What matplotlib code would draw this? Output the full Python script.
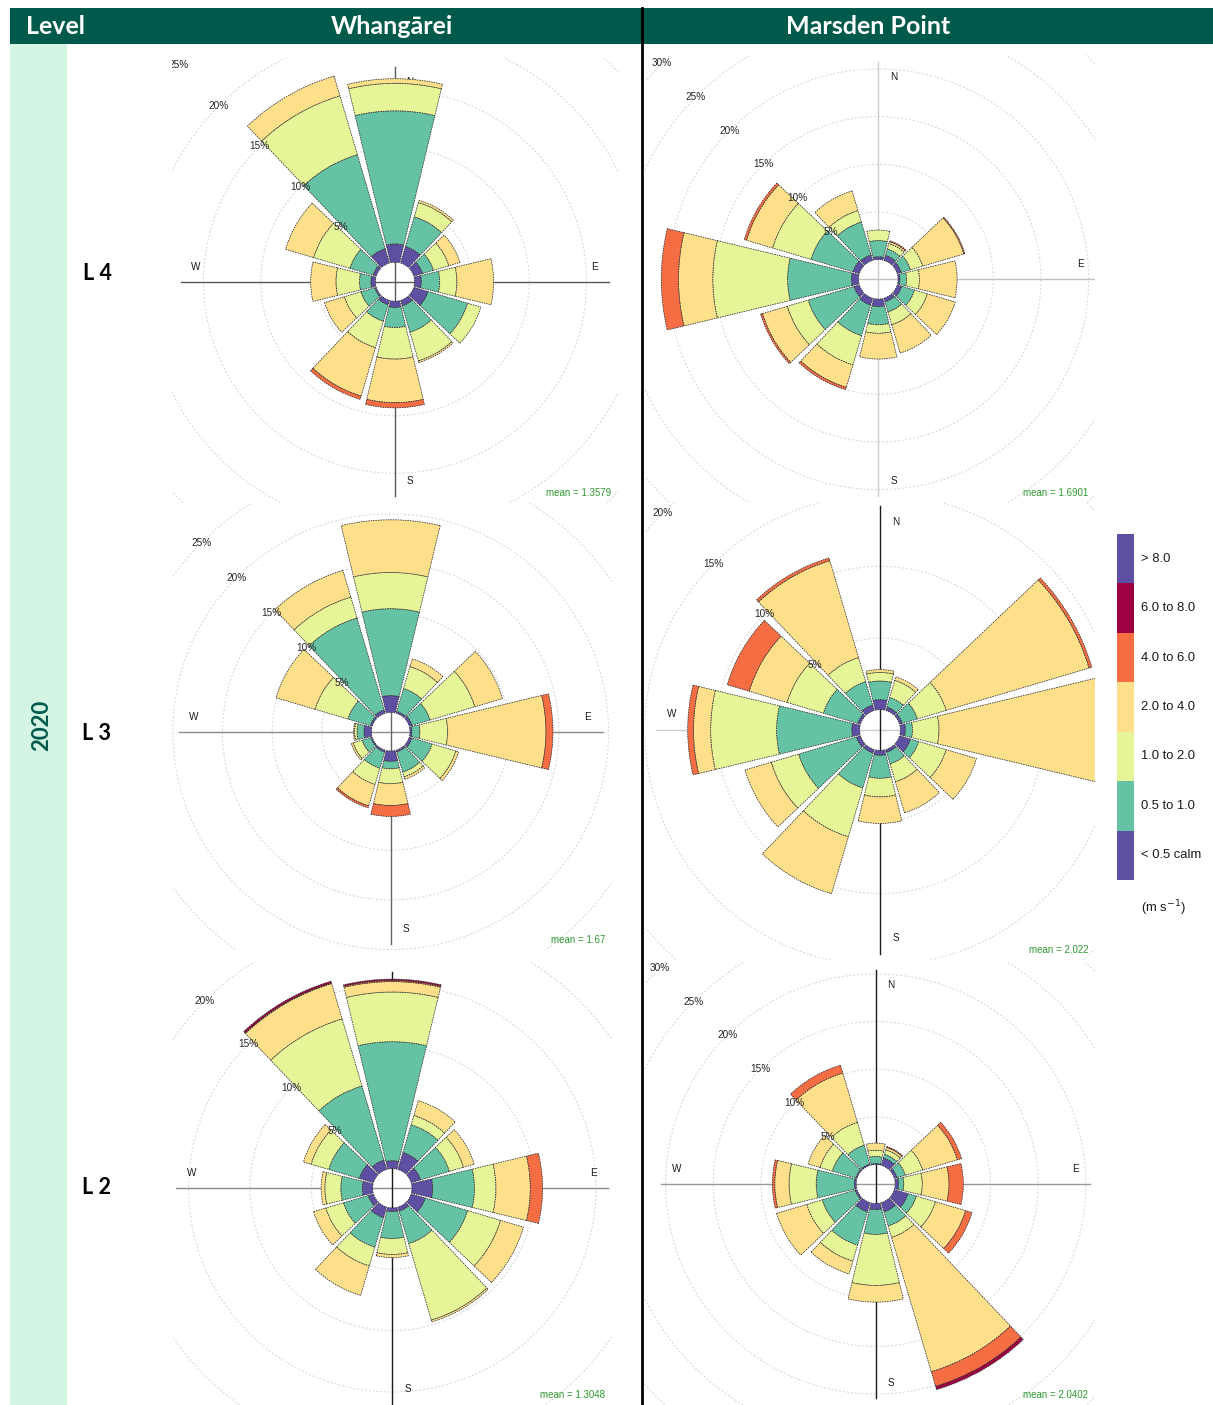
import matplotlib
matplotlib.use('Agg')
import matplotlib.pyplot as plt
from matplotlib.patches import Wedge, Circle, Rectangle
from matplotlib.lines import Line2D

W, H = 1213, 1405

# speed bins (m/s) and openair-style palette
rangos = ['< 0.5 calm', '0.5 to 1.0', '1.0 to 2.0', '2.0 to 4.0',
          '4.0 to 6.0', '6.0 to 8.0', '> 8.0']
colores = ['#5E4FA2', '#66C2A5', '#E6F598', '#FEE08B', '#F46D43', '#9E0142', '#5E4FA2']

direcciones = [0, 30, 60, 90, 120, 150, 180, 210, 240, 270, 300, 330]

# cumulative frequency (%) by direction, stacked by speed bin
whg_l4 = [
    [1.6, 13.2, 15.6, 16.0],
    [1.5, 4.2, 5.5, 5.7],
    [0.8, 1.8, 3.2, 4.2],
    [0.6, 2.2, 3.7, 6.9],
    [1.3, 4.9, 6.1],
    [0.5, 2.9, 5.5, 5.65],
    [0.55, 2.3, 5.05, 8.85, 9.3],
    [0.4, 1.9, 4.3, 8.7, 9.0],
    [0.15, 1.4, 2.9, 4.7],
    [0.4, 1.4, 3.45, 5.65],
    [0.3, 2.4, 5.7, 8.25],
    [1.3, 9.85, 15.2, 17.0],
]
mar_l4 = [
    [0.3, 2.0, 3.1],
    [0.55, 1.25, 1.85, 2.05, 2.15],
    [0.45, 1.45, 2.8, 7.3, 7.4],
    [0.2, 0.9, 2.25, 6.2],
    [0.5, 1.9, 3.3, 6.35],
    [0.4, 1.5, 2.9, 6.0],
    [0.8, 2.7, 3.6, 6.3],
    [0.75, 4.1, 7.3, 9.75, 10.0],
    [0.6, 5.6, 7.9, 10.6, 10.8],
    [0.75, 7.45, 15.3, 18.9, 20.7],
    [0.7, 5.3, 9.5, 12.35, 12.6],
    [0.6, 4.2, 5.45, 7.6],
]
whg_l3 = [
    [1.7, 10.45, 14.1, 19.4],
    [0.2, 2.6, 4.9, 5.7],
    [0.3, 2.2, 6.9, 9.8],
    [0.2, 1.0, 3.8, 13.7, 14.4],
    [0.3, 2.4, 4.9, 5.2],
    [0.2, 2.3, 2.8, 3.05],
    [1.05, 1.8, 3.3, 5.5, 6.6],
    [0.2, 1.9, 3.6, 5.85, 6.05],
    [0.15, 1.05, 2.0, 2.2],
    [0.75, 1.45, 1.7, 1.8],
    [0.2, 2.55, 6.0, 10.1],
    [0.35, 10.0, 12.2, 15.0],
]
mar_l3 = [
    [0.7, 2.0, 2.6, 2.8],
    [0.25, 0.95, 2.2, 2.45],
    [0.2, 1.3, 3.4, 13.8, 14.0],
    [0.35, 0.85, 2.7, 14.2],
    [0.8, 1.4, 3.4, 5.6],
    [0.2, 1.05, 2.35, 4.6],
    [0.35, 1.95, 3.25, 5.1],
    [0.25, 2.8, 6.35, 10.5],
    [0.3, 4.5, 6.5, 8.4],
    [0.55, 5.8, 10.4, 11.6, 12.0],
    [0.2, 2.7, 5.35, 8.1, 9.7],
    [0.4, 2.1, 3.85, 10.9, 11.1],
]
whg_l2 = [
    [0.65, 10.35, 14.4, 15.25, 15.35, 15.45],
    [1.45, 3.8, 4.6, 5.85],
    [0.8, 3.25, 4.45, 5.35],
    [1.7, 5.1, 6.85, 9.65, 10.65],
    [1.2, 4.8, 7.6, 9.55],
    [0.35, 3.1, 9.6, 9.75],
    [0.3, 2.5, 3.8, 4.05],
    [0.9, 3.4, 5.0, 7.5],
    [0.45, 2.55, 4.05, 5.1],
    [0.85, 2.6, 3.9, 4.2],
    [1.2, 3.8, 5.3, 5.95],
    [0.8, 7.1, 12.8, 15.8, 15.85, 16.0],
]
mar_l2 = [
    [0.1, 0.85, 1.5, 2.25],
    [0.8, 1.2, 1.7, 1.95, 2.05],
    [0.3, 1.2, 3.1, 6.9, 7.35],
    [0.35, 0.9, 2.85, 5.65, 7.15],
    [1.5, 2.4, 4.5, 7.8, 8.5],
    [1.0, 2.55, 3.8, 18.5, 20.1, 20.45],
    [0.65, 3.25, 8.6, 10.35],
    [1.0, 4.65, 6.4, 7.8],
    [0.2, 3.8, 5.5, 8.8],
    [0.2, 4.2, 7.05, 8.55, 8.8],
    [0.15, 2.7, 4.05, 5.35],
    [0.15, 2.2, 4.7, 10.1, 10.95],
]

medias = ['mean = 1.3579', 'mean = 1.6901', 'mean = 1.67',
          'mean = 2.022', 'mean = 1.3048', 'mean = 2.0402']
niveles = ['L 4', 'L 3', 'L 2']
sitios = ['Whang\u0101rei', 'Marsden Point']

rosas = [whg_l4, mar_l4, whg_l3, mar_l3, whg_l2, mar_l2]

# panel box (px): x0, y0, x1, y1, centre x, centre y, px per %
paneles = [
    (172, 58, 618, 503, 395.0, 281.7, 11.47),
    (645, 55, 1095, 503, 878.3, 279.3, 9.53),
    (172, 503, 612, 950, 390.7, 731.7, 9.93),
    (645, 503, 1095, 960, 880.0, 730.0, 14.33),
    (172, 962, 612, 1405, 392.3, 1188.3, 12.27),
    (645, 962, 1095, 1405, 875.7, 1184.0, 9.53),
]
color_ns = ['0.35', '0.8', '0.4', '0.1', '0.1', '0.1']
color_ew = ['0.35', '0.75', '0.55', '0.8', '0.55', '0.6']

fuente = ['Liberation Sans', 'DejaVu Sans']
titulo = ['Lato', 'DejaVu Sans']
verde = '#005A4B'


def fig_x(x):
    return x / W


def fig_y(y):
    return 1 - y / H


def dibujar_rosa(fig, datos, caja, media, cns, cew):
    x0, y0, x1, y1, cx, cy, s = caja
    ax = fig.add_axes([fig_x(x0), fig_y(y1), (x1 - x0) / W, (y1 - y0) / H])
    xmin, xmax = (x0 - cx) / s, (x1 - cx) / s
    ymin, ymax = (cy - y1) / s, (cy - y0) / s
    ax.set_xlim(xmin, xmax)
    ax.set_ylim(ymin, ymax)
    ax.axis('off')

    maximo = max(fila[-1] for fila in datos)
    off = 0.1 * maximo
    R = maximo + off

    # dotted percentage circles, labelled along the NW diagonal
    for v in range(5, 45, 5):
        ax.add_patch(Circle((0, 0), v + off, fill=False, ec='#d4d4d4', lw=0.7,
                            ls=(0, (2, 2)), zorder=1))
        d = (v + off) * 0.7071
        if -d > xmin and d < ymax:
            ax.text(-d, d, '%d%%' % v, fontsize=7.2, ha='center', va='center',
                    family=fuente, color='0.15', clip_on=True, zorder=5)

    ax.plot([-R, R], [0, 0], color=cew, lw=1.0, zorder=2)
    ax.plot([0, 0], [-R, R], color=cns, lw=1.0, zorder=2)

    rl = 0.93 * R
    dl = 0.07 * R
    for txt, (tx, ty) in zip('NESW', [(dl, rl), (rl, dl), (dl, -rl), (-rl, dl)]):
        ax.text(tx, ty, txt, fontsize=7.2, ha='center', va='center',
                family=fuente, color='0.1', clip_on=True, zorder=2)

    for d, fila in zip(direcciones, datos):
        previo = 0
        for k, acum in enumerate(fila):
            ax.add_patch(Wedge((0, 0), off + acum, 90 - d - 13.5, 90 - d + 13.5,
                               width=acum - previo, fc=colores[k], ec='#2a2a2a',
                               lw=0.55, ls=(0, (2, 1.2)), zorder=3))
            previo = acum

    ax.text(0.985, 0.012, media, transform=ax.transAxes, ha='right', va='bottom',
            fontsize=7, color='#2E9A2E', family=fuente, clip_on=True, zorder=6)


fig = plt.figure(figsize=(W / 100, H / 100), dpi=100)

# header bar and level column
fig.add_artist(Rectangle((fig_x(10), fig_y(44)), (W - 10) / W, 36 / H,
                         transform=fig.transFigure, fc=verde, ec='none'))
fig.add_artist(Rectangle((fig_x(10), 0), 57 / W, fig_y(44),
                         transform=fig.transFigure, fc='#D4F5E4', ec='none'))

for caja, datos, media, cns, cew in zip(paneles, rosas, medias, color_ns, color_ew):
    dibujar_rosa(fig, datos, caja, media, cns, cew)

fig.add_artist(Line2D([fig_x(641.5)] * 2, [fig_y(8), 0], transform=fig.transFigure,
                      color='black', lw=2))

fig.text(fig_x(56), fig_y(26), 'Level', color='white', fontsize=18, weight='bold',
         family=titulo, ha='center', va='center')
for sitio, xc in zip(sitios, [392, 868]):
    fig.text(fig_x(xc), fig_y(26), sitio, color='white', fontsize=18, weight='bold',
             family=titulo, ha='center', va='center')

fig.text(fig_x(42), fig_y(725), '2020', color=verde, fontsize=16, weight='bold',
         family=titulo, ha='center', va='center', rotation=90)
for nivel, yc in zip(niveles, [273, 733, 1187]):
    fig.text(fig_x(97), fig_y(yc), nivel, color='black', fontsize=15.5, weight='bold',
             family=titulo, ha='center', va='center')

# speed key
ax_leg = fig.add_axes([fig_x(1117), fig_y(880), 17 / W, 346 / H])
for i, c in enumerate(colores):
    ax_leg.bar(0, 1, bottom=i, width=1, color=c)
    ax_leg.text(1.4, i + 0.5, rangos[i], transform=ax_leg.get_yaxis_transform(),
                fontsize=9.4, family=fuente, va='center', ha='left', color='0.1')
ax_leg.set_xlim(-0.5, 0.5)
ax_leg.set_ylim(0, len(colores))
ax_leg.axis('off')
fig.text(fig_x(1163), fig_y(908), '(m s$^{-1}$)', fontsize=9.4, family=fuente,
         ha='center', va='center', color='0.1')

fig.savefig('out.png', dpi=100)
